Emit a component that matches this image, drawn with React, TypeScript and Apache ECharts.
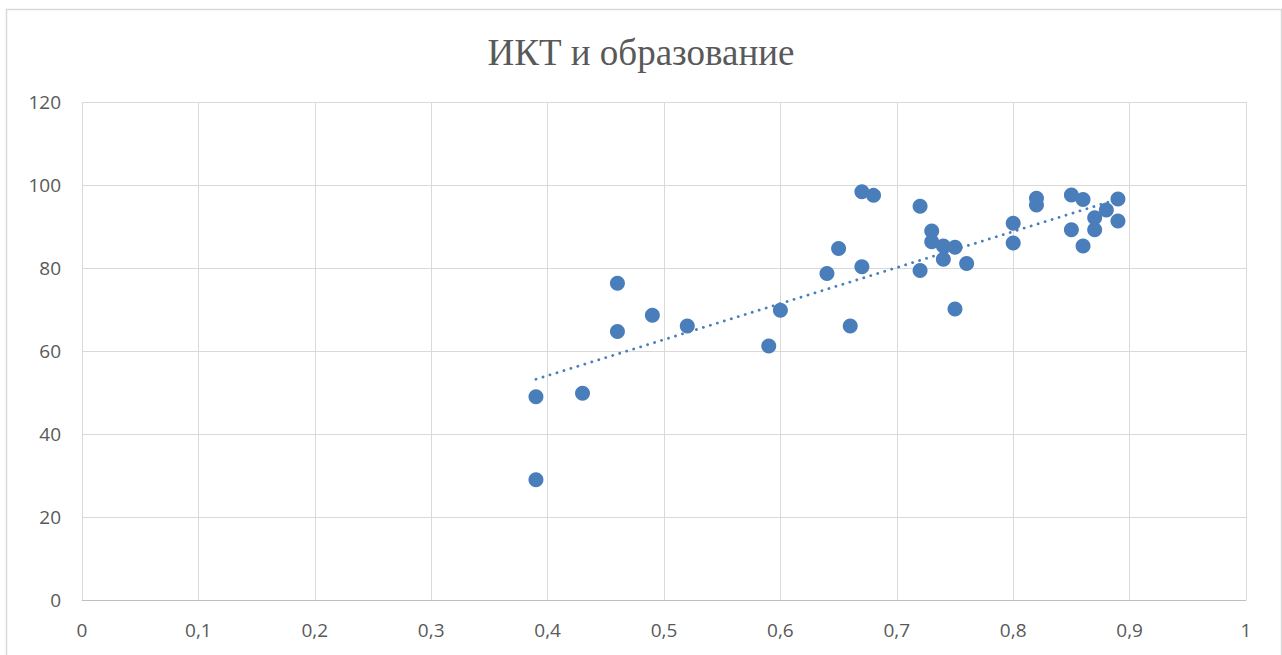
import React, { useEffect, useRef } from "react";
import * as echarts from "echarts";

const TITLE = "ИКТ и образование";

const ictValues: number[] = [
  0.39, 0.39, 0.43, 0.46, 0.46, 0.49, 0.52, 0.59, 0.6, 0.64, 0.65, 0.66, 0.67,
  0.67, 0.68, 0.72, 0.72, 0.73, 0.73, 0.74, 0.74, 0.75, 0.75, 0.76, 0.8, 0.8,
  0.82, 0.82, 0.85, 0.85, 0.86, 0.86, 0.87, 0.87, 0.88, 0.89, 0.89,
];
const eduValues: number[] = [
  49.0, 29.0, 49.8, 76.3, 64.7, 68.6, 66.0, 61.2, 69.8, 78.7, 84.7, 66.0, 98.4,
  80.3, 97.5, 94.9, 79.4, 88.9, 86.3, 85.3, 82.1, 85.0, 70.1, 81.1, 90.8, 86.0,
  96.8, 95.2, 97.6, 89.2, 96.5, 85.3, 92.1, 89.2, 94.0, 96.6, 91.3,
];

// Trendline endpoints
const trendX: number[] = [0.39, 0.89];
const trendY: number[] = [53.2, 96.6];

const xTicks = { min: 0, max: 1, interval: 0.1 };
const yTicks = { min: 0, max: 120, interval: 20 };

const BLUE = "#4a7ebb";
const LABEL = "#595959";
const GRID = "#d9d9d9";

export default function App() {
  const ref = useRef<HTMLDivElement>(null);

  useEffect(() => {
    if (!ref.current) return;
    const chart = echarts.init(ref.current, undefined, { renderer: "svg" });
    const points = ictValues.map((x, i) => [x, eduValues[i]]);
    const trend = trendX.map((x, i) => [x, trendY[i]]);
    chart.setOption({
      animation: false,
      backgroundColor: "#ffffff",
      title: {
        text: TITLE,
        left: "center",
        top: 29,
        textStyle: {
          fontFamily: "'Liberation Serif', 'DejaVu Serif', serif",
          fontSize: 37,
          fontWeight: "normal",
          color: LABEL,
        },
      },
      graphic: [
        {
          type: "rect",
          shape: { x: 6.5, y: 9.5, width: 1275, height: 700 },
          style: { fill: "none", stroke: GRID, lineWidth: 1.5 },
          silent: true,
          z: -10,
        },
      ],
      grid: { left: 82, right: 36, top: 102, bottom: 55, containLabel: false },
      xAxis: {
        type: "value",
        min: xTicks.min,
        max: xTicks.max,
        interval: xTicks.interval,
        axisLine: { show: true, lineStyle: { color: "#bfbfbf", width: 1 } },
        axisTick: { show: false },
        splitLine: { show: true, lineStyle: { color: GRID, width: 1 } },
        axisLabel: {
          color: LABEL,
          fontFamily: "'Open Sans', sans-serif",
          fontSize: 19,
          margin: 20,
          formatter: (v: number) => String(Math.round(v * 10) / 10).replace(".", ","),
        },
      },
      yAxis: {
        type: "value",
        min: yTicks.min,
        max: yTicks.max,
        interval: yTicks.interval,
        axisLine: { show: false },
        axisTick: { show: false },
        splitLine: { show: true, lineStyle: { color: GRID, width: 1 } },
        axisLabel: {
          color: LABEL,
          fontFamily: "'Open Sans', sans-serif",
          fontSize: 19,
          margin: 21,
        },
      },
      series: [
        {
          type: "scatter",
          data: points,
          symbol: "circle",
          symbolSize: 15,
          itemStyle: { color: BLUE, opacity: 1 },
          z: 2,
        },
        {
          type: "line",
          data: trend,
          symbol: "none",
          silent: true,
          lineStyle: { color: BLUE, width: 2.8, type: [0.1, 7.2], cap: "round" },
          z: 3,
        },
      ],
    });
    return () => chart.dispose();
  }, []);

  return (
    <div
      ref={ref}
      style={{ position: "fixed", left: 0, top: 0, width: 1282, height: 655 }}
    />
  );
}
